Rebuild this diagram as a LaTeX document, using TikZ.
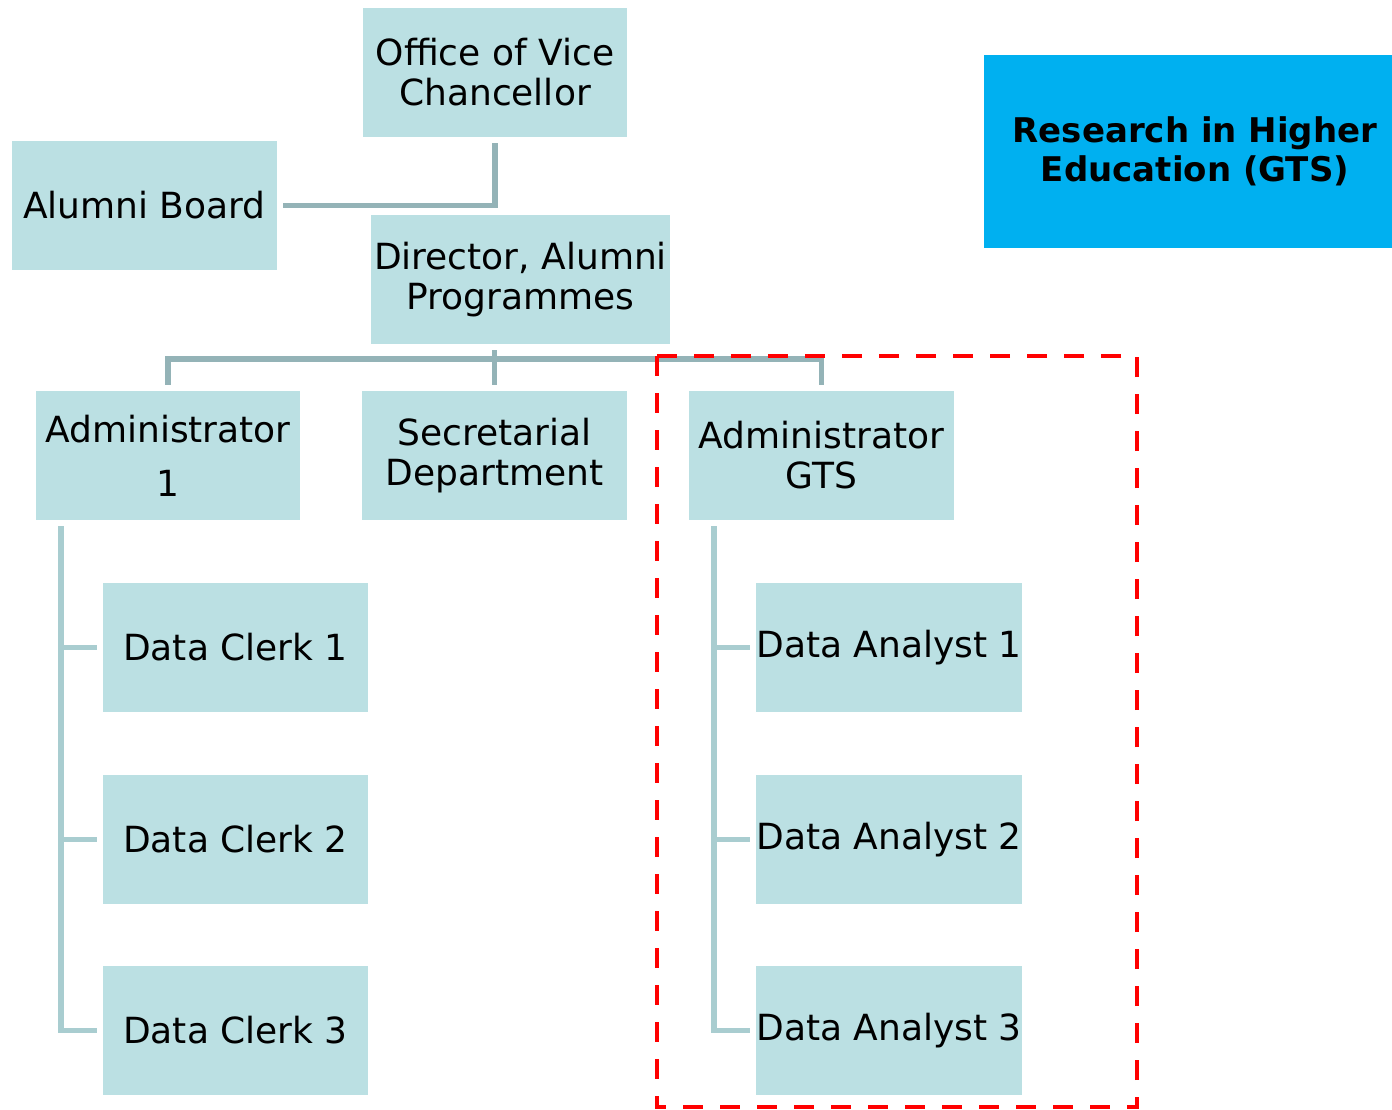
\documentclass[tikz,border=0pt]{standalone}
\usepackage{fontspec}
\setmainfont{DejaVu Sans}
\usetikzlibrary{calc}
\definecolor{boxfill}{HTML}{BBE0E3}
\definecolor{connA}{HTML}{94B3B7}
\definecolor{connB}{HTML}{A9CDD0}
\definecolor{titlefill}{HTML}{00B0F0}
\definecolor{dashred}{HTML}{FF0000}
\tikzset{
  orgbox/.style={fill=boxfill, draw=none, inner sep=0pt, align=center,
    minimum height=129pt, font=\fontsize{36}{40}\selectfont},
  conn/.style={draw=connA, line width=5.5pt, line join=miter},
  sideconn/.style={draw=connB, line width=5.5pt, line join=miter},
  gtsframe/.style={draw=dashred, line width=4pt, dash pattern=on 20pt off 17pt},
}
\begin{document}
\begin{tikzpicture}[x=1pt,y=-1pt]
\useasboundingbox (0,0) rectangle (1392,1109);
% boxes
\node[orgbox, minimum width=264pt] (vc) at (495,72.5) {Office of Vice\\Chancellor};
\node[orgbox, minimum width=265pt] (alumni) at (144.5,205.5) {Alumni Board};
\node[orgbox, minimum width=299pt] (dir) at (520.5,279.5) {Director, Alumni\\Programmes};
\node[fill=titlefill, inner sep=0pt, align=center, minimum width=408pt, minimum height=193pt,
  font=\fontsize{34}{39}\selectfont\bfseries] (rhe) at (1188,151.5) {\hspace*{14pt}Research in Higher\\\hspace*{14pt}Education (GTS)};
\node[orgbox, minimum width=264pt] (adm1) at (168,455.5) {Administrator\\[14pt]1};
\node[orgbox, minimum width=265pt] (sec) at (494.5,455.5) {Secretarial\\Department};
\node[orgbox, minimum width=265pt] (admg) at (821.5,455.5) {Administrator\\GTS};
\node[orgbox, minimum width=265pt] (dc1) at (235.5,647.5) {Data Clerk 1};
\node[orgbox, minimum width=265pt] (dc2) at (235.5,839.5) {Data Clerk 2};
\node[orgbox, minimum width=265pt] (dc3) at (235.5,1030.5) {Data Clerk 3};
\node[orgbox, minimum width=264pt] (da1) at (889,647.5) {Data Analyst 1};
\node[orgbox, minimum width=264pt] (da2) at (889,839.5) {Data Analyst 2};
\node[orgbox, minimum width=264pt] (da3) at (889,1030.5) {Data Analyst 3};
% connectors
\draw[conn] ($(vc.south)+(0,6)$) |- ($(alumni.east)+(6,0)$);
\draw[conn] ($(adm1.north)+(0,-6)$) -- ++(0,-26) -| ($(admg.north)+(0,-6)$);
\draw[conn] ($(sec.north)+(0,-6)$) -- ($(dir.south -| sec.north)+(0,6)$);
% left branch
\coordinate (lt) at ($(adm1.south west)+(25,6)$);
\draw[sideconn] (lt) |- ($(dc3.west)+(-6,0)$);
\draw[sideconn] (lt |- dc1.west) -- ($(dc1.west)+(-6,0)$);
\draw[sideconn] (lt |- dc2.west) -- ($(dc2.west)+(-6,0)$);
% right branch
\coordinate (rt) at ($(admg.south west)+(25,6)$);
\draw[sideconn] (rt) |- ($(da3.west)+(-6,0)$);
\draw[sideconn] (rt |- da1.west) -- ($(da1.west)+(-6,0)$);
\draw[sideconn] (rt |- da2.west) -- ($(da2.west)+(-6,0)$);
% GTS frame
\draw[gtsframe] (657,356) rectangle (1137,1107);
\end{tikzpicture}
\end{document}
